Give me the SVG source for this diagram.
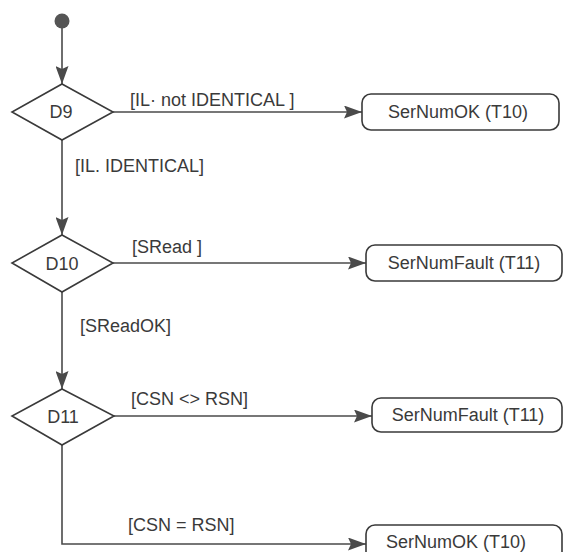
<svg xmlns="http://www.w3.org/2000/svg" width="567" height="552" viewBox="0 0 567 552">
<defs>
<style>
.edge{fill:none;stroke:#4a4a4a;stroke-width:1.6}
.shape{fill:#fff;stroke:#3a3a3a;stroke-width:1.6}
.t{font-family:"Liberation Sans",Arial,sans-serif;font-size:18px;fill:#3a3a3a}
.c{text-anchor:middle}
</style>
<marker id="arr" markerUnits="userSpaceOnUse" markerWidth="19" markerHeight="13" refX="18" refY="6.5" orient="auto">
<path d="M0,0 L18,6.5 L0,13 L3,6.5 Z" fill="#4a4a4a"/>
</marker>
</defs>
<rect width="567" height="552" fill="#fff"/>
<g id="connectors">
<path class="edge" d="M62,27 L62,84" marker-end="url(#arr)"/>
<path class="edge" d="M113,112 L362,112" marker-end="url(#arr)"/>
<path class="edge" d="M62,140 L62,235" marker-end="url(#arr)"/>
<path class="edge" d="M113,263 L366,263" marker-end="url(#arr)"/>
<path class="edge" d="M62,292 L62,389" marker-end="url(#arr)"/>
<path class="edge" d="M114,416 L372,416" marker-end="url(#arr)"/>
<path class="edge" d="M62,445 L62,544 L366,544" marker-end="url(#arr)"/>
<text class="t" x="130" y="106">[IL· not IDENTICAL ]</text>
<text class="t" x="75" y="172">[IL. IDENTICAL]</text>
<text class="t" x="132" y="253">[SRead ]</text>
<text class="t" x="80" y="332">[SReadOK]</text>
<text class="t" x="131" y="405">[CSN &lt;&gt; RSN]</text>
<text class="t" x="128" y="531">[CSN = RSN]</text>
</g>
<g id="start">
<circle cx="62" cy="21" r="7.5" fill="#555"/>
</g>
<g id="D9">
<polygon class="shape" points="62,84 113,112 62,140 12,112"/>
<text class="t c" x="61" y="118">D9</text>
</g>
<g id="D10">
<polygon class="shape" points="62,235 113,263 62,292 12,263"/>
<text class="t c" x="62" y="270">D10</text>
</g>
<g id="D11">
<polygon class="shape" points="62,389 114,416 62,445 12,416"/>
<text class="t c" x="63" y="423">D11</text>
</g>
<g id="T10a">
<rect class="shape" x="362" y="94" width="197" height="36" rx="9"/>
<text class="t c" x="458" y="118">SerNumOK (T10)</text>
</g>
<g id="T11a">
<rect class="shape" x="366" y="245" width="196" height="36" rx="9"/>
<text class="t c" x="464" y="269">SerNumFault (T11)</text>
</g>
<g id="T11b">
<rect class="shape" x="372" y="398" width="190" height="34" rx="9"/>
<text class="t c" x="468" y="421">SerNumFault (T11)</text>
</g>
<g id="T10b">
<rect class="shape" x="366" y="525" width="196" height="36" rx="9"/>
<text class="t c" x="456" y="548">SerNumOK (T10)</text>
</g>
</svg>
